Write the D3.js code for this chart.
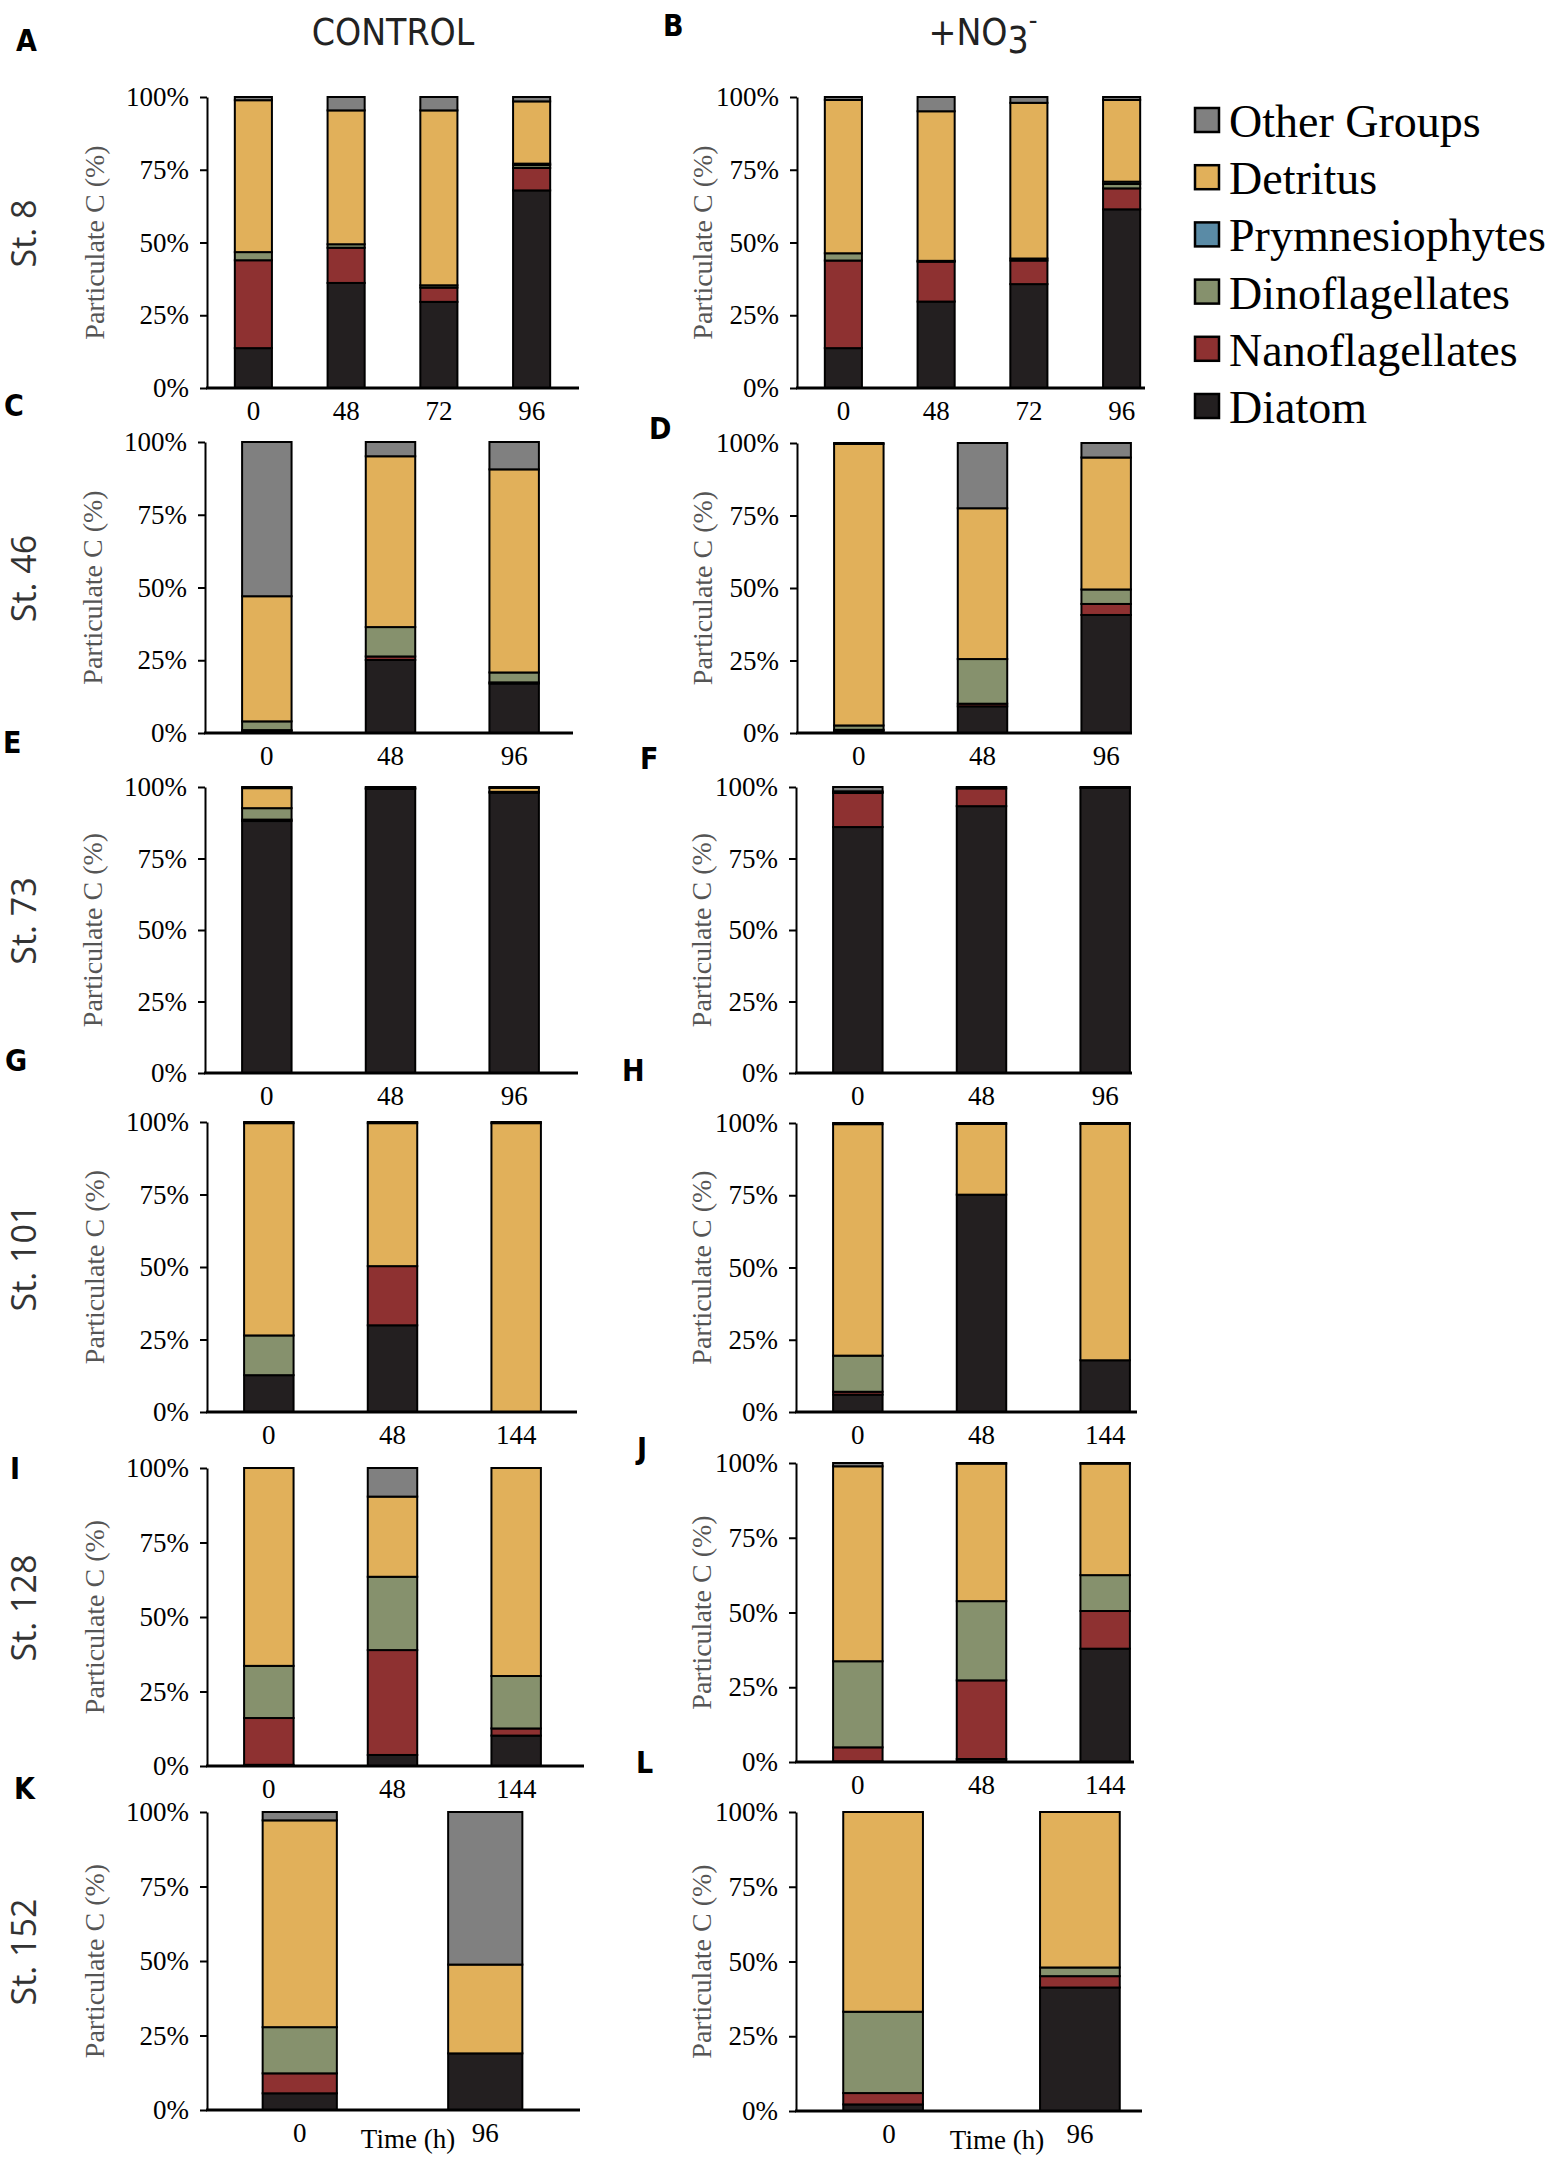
<!DOCTYPE html>
<html>
<head>
<meta charset="utf-8">
<script src="https://cdn.jsdelivr.net/npm/d3@7"></script>
<style>
  body { margin: 0; background: #fff; }
  svg { display: block; }
</style>
</head>
<body>
<div id="chart"></div>
<script>
// groups, bottom of the stack first
const groups = ["Diatom", "Nanoflagellates", "Dinoflagellates", "Prymnesiophytes", "Detritus", "Other Groups"];
const groupColors = ["#231f20", "#8e3131", "#86916d", "#5a8ba6", "#e1b05a", "#808080"];
const stations = ["St. 8", "St. 46", "St. 73", "St. 101", "St. 128", "St. 152"];
const columnTitles = ["CONTROL", "+NO3-"];
const yTicks = [0, 25, 50, 75, 100];

// sampling times (h) per station
const timesSt8 = ["0", "48", "72", "96"];
const timesSt46 = ["0", "48", "96"];
const timesSt73 = ["0", "48", "96"];
const timesSt101 = ["0", "48", "144"];
const timesSt128 = ["0", "48", "144"];
const timesSt152 = ["0", "96"];

// % particulate C, one row per time: [Diatom, Nano, Dino, Prym, Detritus, Other]
const panelA = [[13.7, 30.2, 2.8, 0, 52.2, 1.1], [36.1, 12.1, 1.2, 0, 46.0, 4.6], [29.6, 4.9, 0.8, 0, 60.1, 4.6], [67.9, 7.7, 1.0, 0.5, 21.4, 1.5]];
const panelB = [[13.7, 30.1, 2.5, 0, 52.7, 1.0], [29.7, 13.7, 0.3, 0, 51.4, 4.9], [35.7, 8.1, 0.7, 0, 53.5, 2.0], [61.4, 7.2, 1.5, 0.8, 28.1, 1.0]];
const panelC = [[0.7, 0.3, 3.0, 0, 43.0, 53.0], [25.1, 1.2, 10.1, 0, 58.7, 4.9], [17.0, 0.4, 3.4, 0, 69.8, 9.4]];
const panelD = [[0.8, 0.3, 1.5, 0, 97.1, 0.3], [9.2, 0.9, 15.4, 0, 52.0, 22.5], [40.7, 3.8, 5.0, 0, 45.5, 5.0]];
const panelE = [[88.1, 0.5, 4.0, 0, 7.0, 0.4], [99.3, 0, 0, 0, 0.4, 0.3], [98.0, 0.3, 0, 0, 1.4, 0.3]];
const panelF = [[86.0, 11.9, 0.3, 0, 0.3, 1.5], [93.3, 6.2, 0, 0, 0, 0.5], [99.7, 0, 0, 0, 0, 0.3]];
const panelG = [[12.7, 0, 13.7, 0, 73.2, 0.4], [29.9, 20.4, 0, 0, 49.3, 0.4], [0, 0, 0, 0, 99.6, 0.4]];
const panelH = [[6.0, 1.0, 12.5, 0, 80.1, 0.4], [75.2, 0, 0, 0, 24.5, 0.3], [17.9, 0, 0, 0, 81.8, 0.3]];
const panelI = [[0.4, 15.7, 17.5, 0, 66.4, 0], [3.7, 35.2, 24.6, 0, 26.9, 9.6], [10.2, 2.4, 17.6, 0, 69.8, 0]];
const panelJ = [[0.2, 4.7, 28.8, 0, 65.2, 1.1], [1.0, 26.3, 26.5, 0, 46.0, 0.2], [37.9, 12.6, 12.0, 0, 37.3, 0.2]];
const panelK = [[5.6, 6.7, 15.5, 0, 69.4, 2.8], [19.0, 0, 0, 0, 29.8, 51.2]];
const panelL = [[2.2, 3.8, 27.2, 0, 66.8, 0], [41.3, 3.8, 2.9, 0, 52.0, 0]];

const W = 1550, H = 2159;
const serif = "'Liberation Serif', 'Times New Roman', serif";
const narrow = "'Liberation Sans Narrow', 'DejaVu Sans Condensed', sans-serif";

// panel layout: axis x, x-axis line length, plot top/bottom, letter position
const panels = [
  { id: "A", data: panelA, times: timesSt8,   row: 0, col: 0, x0: 207, len: 372, top: 97,   bot: 388,  lx: 16,  ly: 51 },
  { id: "B", data: panelB, times: timesSt8,   row: 0, col: 1, x0: 797, len: 348, top: 97,   bot: 388,  lx: 663, ly: 36 },
  { id: "C", data: panelC, times: timesSt46,  row: 1, col: 0, x0: 205, len: 368, top: 442,  bot: 733,  lx: 4,   ly: 416 },
  { id: "D", data: panelD, times: timesSt46,  row: 1, col: 1, x0: 797, len: 335, top: 443,  bot: 733,  lx: 649, ly: 439 },
  { id: "E", data: panelE, times: timesSt73,  row: 2, col: 0, x0: 205, len: 373, top: 787,  bot: 1073, lx: 3,   ly: 753 },
  { id: "F", data: panelF, times: timesSt73,  row: 2, col: 1, x0: 796, len: 336, top: 787,  bot: 1073, lx: 640, ly: 769 },
  { id: "G", data: panelG, times: timesSt101, row: 3, col: 0, x0: 207, len: 370, top: 1122, bot: 1412, lx: 5,   ly: 1071 },
  { id: "H", data: panelH, times: timesSt101, row: 3, col: 1, x0: 796, len: 341, top: 1123, bot: 1412, lx: 622, ly: 1081 },
  { id: "I", data: panelI, times: timesSt128, row: 4, col: 0, x0: 207, len: 377, top: 1468, bot: 1766, lx: 10,  ly: 1479 },
  { id: "J", data: panelJ, times: timesSt128, row: 4, col: 1, x0: 796, len: 338, top: 1463, bot: 1762, lx: 637, ly: 1459 },
  { id: "K", data: panelK, times: timesSt152, row: 5, col: 0, x0: 207, len: 373, top: 1812, bot: 2110, lx: 14,  ly: 1799 },
  { id: "L", data: panelL, times: timesSt152, row: 5, col: 1, x0: 796, len: 346, top: 1812, bot: 2111, lx: 636, ly: 1773 }
];

const svg = d3.select("#chart").append("svg")
  .attr("width", W).attr("height", H)
  .attr("viewBox", `0 0 ${W} ${H}`);

const stack = d3.stack().keys(groups);

panels.forEach(p => {
  const rows = p.data.map((vals, i) => {
    const o = { time: p.times[i] };
    groups.forEach((g, j) => o[g] = vals[j]);
    return o;
  });
  const series = stack(rows);

  const x = d3.scaleBand().domain(p.times)
    .range([p.x0, p.x0 + 371])
    .paddingInner(p.id === "L" ? 0.595 : 0.6)
    .paddingOuter(p.id === "L" ? 0.24 : 0.3);
  const y = d3.scaleLinear().domain([0, 100]).range([p.bot, p.top]);
  const g = svg.append("g");

  // stacked bars
  g.selectAll("g.layer").data(series).enter().append("g")
    .attr("fill", (d, i) => groupColors[i])
    .selectAll("rect").data(d => d.filter(s => s[1] - s[0] > 0)).enter().append("rect")
    .attr("x", d => x(d.data.time))
    .attr("width", x.bandwidth())
    .attr("y", d => y(d[1]))
    .attr("height", d => y(d[0]) - y(d[1]))
    .attr("stroke", "#000").attr("stroke-width", 2);

  // y axis
  const ya = g.append("g").attr("transform", `translate(${p.x0},0)`)
    .call(d3.axisLeft(y).tickValues(yTicks).tickFormat(d => d + "%")
      .tickSize(7).tickSizeOuter(0).tickPadding(11));
  ya.select(".domain").attr("stroke-width", 2);
  ya.selectAll(".tick line").attr("stroke-width", 2);
  ya.selectAll("text").attr("font-family", serif).attr("font-size", 27).attr("fill", "#000");

  // x axis line
  g.append("line").attr("x1", p.x0 - 1).attr("x2", p.x0 + p.len)
    .attr("y1", p.bot).attr("y2", p.bot)
    .attr("stroke", "#000").attr("stroke-width", 3);

  const xa = g.append("g").attr("transform", `translate(0,${p.bot})`)
    .call(d3.axisBottom(x).tickSize(0).tickPadding(13));
  xa.select(".domain").remove();
  xa.selectAll("text").attr("font-family", serif).attr("font-size", 27).attr("fill", "#000")
    .attr("dx", d => (p.id === "L" && d === "0") ? "6" : "0");

  if (p.row === 5) {
    const tx = p.col === 0 ? 408 : 997;
    g.append("text").attr("x", tx).attr("y", p.bot + 38)
      .attr("text-anchor", "middle").attr("font-family", serif).attr("font-size", 27)
      .text("Time (h)");
  }

  // y title
  const tx = p.x0 + (p.col === 0 ? -103 : -85);
  g.append("text")
    .attr("transform", `translate(${tx},${(p.top + p.bot) / 2}) rotate(-90)`)
    .attr("text-anchor", "middle").attr("font-family", serif).attr("font-size", 28)
    .attr("fill", "#555").text("Particulate C (%)");

  // panel letter
  svg.append("text").attr("x", p.lx).attr("y", p.ly)
    .attr("font-family", narrow).attr("font-weight", "bold").attr("font-size", 30)
    .text(p.id);

  // station label
  if (p.col === 0) {
    svg.append("text")
      .attr("transform", `translate(36,${(p.top + p.bot) / 2 - 9}) rotate(-90)`)
      .attr("text-anchor", "middle").attr("font-family", "'Open Sans', 'DejaVu Sans', sans-serif")
      .attr("font-size", 34).attr("fill", "#333").text(stations[p.row]);
  }
});

// column titles
svg.append("text").attr("x", 393).attr("y", 45).attr("text-anchor", "middle")
  .attr("font-family", narrow).attr("font-size", 37).attr("fill", "#222")
  .text(columnTitles[0]);
const t2 = svg.append("text").attr("x", 983).attr("y", 45).attr("text-anchor", "middle")
  .attr("font-family", narrow).attr("font-size", 37).attr("fill", "#222");
t2.append("tspan").text("+NO");
t2.append("tspan").attr("dy", 8).text("3");
t2.append("tspan").attr("dy", -24).attr("font-size", 27).text("-");

// legend, top item = top of stack
const legendItems = groups.map((g, i) => ({ name: g, color: groupColors[i] })).reverse();
const leg = svg.append("g").selectAll("g").data(legendItems).enter().append("g")
  .attr("transform", (d, i) => `translate(1195,${108 + i * 57.2})`);
leg.append("rect").attr("width", 24).attr("height", 24)
  .attr("fill", d => d.color).attr("stroke", "#000").attr("stroke-width", 2.5);
leg.append("text").attr("x", 34).attr("y", 29)
  .attr("font-family", serif).attr("font-size", 46).attr("fill", "#000")
  .text(d => d.name);
</script>
</body>
</html>
